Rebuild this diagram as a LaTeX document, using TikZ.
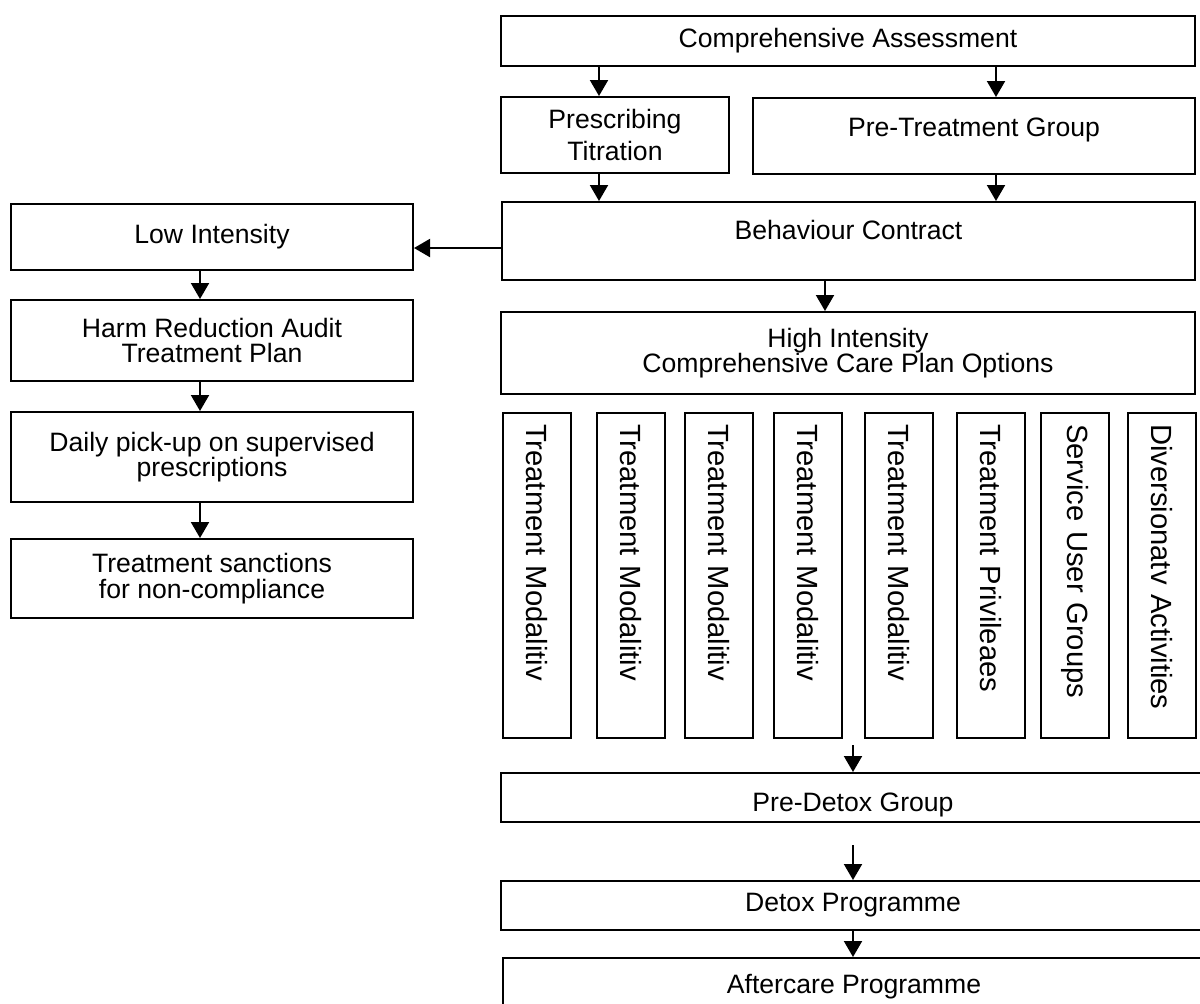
\documentclass[tikz,border=0pt]{standalone}
\usepackage{fontspec}
\setmainfont{Liberation Sans}
\usetikzlibrary{arrows.meta}
\newcommand{\flowfont}{\fontsize{13.3}{12.75}\selectfont}
\newcommand{\sidefont}{\fontsize{14.6}{16}\selectfont}
\tikzset{
  box/.style={draw, line width=1pt, inner sep=0pt, align=center, font=\flowfont},
  vbox/.style={draw, line width=1pt, rotate=-90, anchor=west, inner xsep=5.5pt, inner ysep=0pt,
    text width=151.5pt, align=left, minimum height=34pt, font=\sidefont},
  arr/.style={-{Triangle[length=8pt,width=9pt]}, line width=1pt}
}
\begin{document}
\begin{tikzpicture}[x=0.5pt,y=-0.5pt]
                        \useasboundingbox (0,0) rectangle (1200,1003);
                        \clip (0,0) rectangle (1200,1003);

                        \node[box, minimum width=347pt, minimum height=25pt] (ca) at (848,41) {Comprehensive Assessment};
                        \node[box, minimum width=114pt, minimum height=38pt] (presc) at (615,135) {Prescribing\\[3pt]Titration};
                        \node[box, minimum width=221pt, text height=19.25pt, text depth=18.75pt] (ptg) at (974,136) {Pre-Treatment Group};
                        \node[box, minimum width=346.5pt, text height=18.75pt, text depth=20.25pt] (bc) at (848.5,241) {Behaviour Contract};
                        \node[box, minimum width=347pt, minimum height=41pt] (high) at (848,353) {High Intensity\\Comprehensive Care Plan Options};

                        \node[box, minimum width=201pt, minimum height=33pt] (low) at (212,237) {Low Intensity};
                        \node[box, minimum width=201pt, minimum height=40.5pt] (harm) at (212,340.5) {Harm Reduction Audit\\Treatment Plan};
                        \node[box, minimum width=201pt, minimum height=45pt] (daily) at (212,457) {Daily pick-up on supervised\\prescriptions};
                        \node[box, minimum width=201pt, minimum height=39.5pt] (sanc) at (212,578.5) {Treatment sanctions\\for non-compliance};

                        \foreach \x/\t [count=\i] in {537/Treatment Modalitiv, 631/Treatment Modalitiv,
                            719/Treatment Modalitiv, 808/Treatment Modalitiv, 899/Treatment Modalitiv,
                            991/Treatment Privileaes, 1075/Service User Groups, 1161.5/Diversionatv Activities}
                          \node[vbox] (mod\i) at (\x,412) {\t};

                        \node[box, minimum width=352pt, text height=19.25pt, text depth=5.25pt] (predetox) at (853,797.5) {Pre-Detox Group};
                        \node[box, minimum width=352pt, minimum height=24.5pt] (detox) at (853,905.5) {Detox Programme};
                        \node[box, anchor=north, minimum width=351pt, text height=17.75pt, text depth=20pt] (after) at (854,957) {Aftercare Programme};

                        \coordinate (cl) at (599,0);
                        \coordinate (cr) at (996,0);
                        \coordinate (lc) at (200,0);
                        \coordinate (hc) at (825,0);
                        \coordinate (dc) at (853,0);
                        \coordinate (by) at (0,248);
                        \coordinate (d1) at (853,745);
                        \coordinate (d2) at (853,845);

                        \draw[arr] (ca.south -| cl) -- (presc.north -| cl);
                        \draw[arr] (ca.south -| cr) -- (ptg.north -| cr);
                        \draw[arr] (presc.south -| cl) -- (bc.north -| cl);
                        \draw[arr] (ptg.south -| cr) -- (bc.north -| cr);
                        \draw[arr] (bc.west |- by) -- (low.east |- by);
                        \draw[arr] (bc.south -| hc) -- (high.north -| hc);

                        \draw[arr] (low.south -| lc) -- (harm.north -| lc);
                        \draw[arr] (harm.south -| lc) -- (daily.north -| lc);
                        \draw[arr] (daily.south -| lc) -- (sanc.north -| lc);

                        \draw[arr] (d1) -- (d1 |- predetox.north);
                        \draw[arr] (d2) -- (d2 |- detox.north);
                        \draw[arr] (detox.south -| dc) -- (after.north -| dc);
                      \end{tikzpicture}
\end{document}
